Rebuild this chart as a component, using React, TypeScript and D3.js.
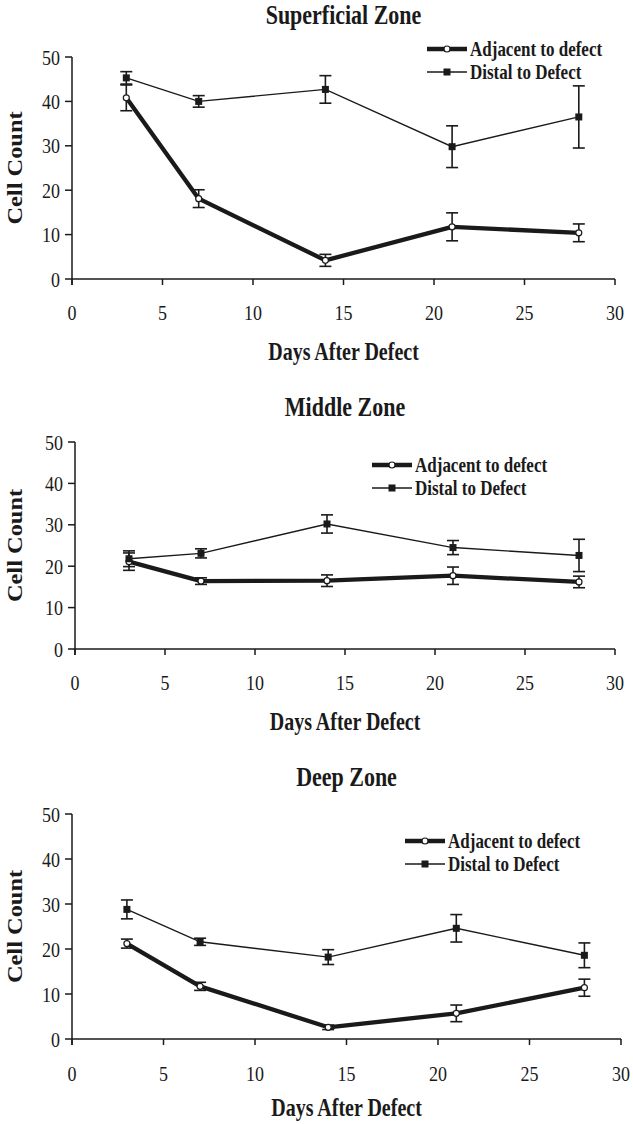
import React from "react";
import * as d3 from "d3";

const days = [3, 7, 14, 21, 28];
const xTicks = [0, 5, 10, 15, 20, 25, 30];
const yTicks = [0, 10, 20, 30, 40, 50];
const seriesNames = ["Adjacent to defect", "Distal to Defect"];
const panelTitles = ["Superficial Zone", "Middle Zone", "Deep Zone"];

const superAdj = [40.8, 18.1, 4.2, 11.75, 10.4];
const superAdjErr = [2.9, 2.0, 1.35, 3.15, 2.0];
const superDist = [45.3, 40.0, 42.7, 29.8, 36.5];
const superDistErr = [1.4, 1.3, 3.1, 4.7, 7.0];

const middleAdj = [21.1, 16.4, 16.5, 17.7, 16.2];
const middleAdjErr = [2.1, 0.8, 1.4, 2.1, 1.4];
const middleDist = [21.8, 23.1, 30.2, 24.5, 22.6];
const middleDistErr = [1.9, 1.1, 2.2, 1.7, 3.9];

const deepAdj = [21.2, 11.7, 2.6, 5.7, 11.4];
const deepAdjErr = [1.0, 0.9, 0.5, 1.85, 1.9];
const deepDist = [28.8, 21.6, 18.2, 24.6, 18.6];
const deepDistErr = [2.1, 0.8, 1.65, 3.05, 2.75];

const panelData = [
  { adj: superAdj, adjErr: superAdjErr, dist: superDist, distErr: superDistErr },
  { adj: middleAdj, adjErr: middleAdjErr, dist: middleDist, distErr: middleDistErr },
  { adj: deepAdj, adjErr: deepAdjErr, dist: deepDist, distErr: deepDistErr },
];

// layout (pixel positions)
const layouts = [
  { x0: 72, x1: 615, yTop: 57, yBot: 279, titleY: 15, labelY: 312, xTitleY: 352, legX: 427, legY: 49 },
  { x0: 75, x1: 615, yTop: 442, yBot: 649, titleY: 407, labelY: 682, xTitleY: 722, legX: 372, legY: 465 },
  { x0: 72, x1: 621, yTop: 814, yBot: 1039, titleY: 777, labelY: 1073, xTitleY: 1108, legX: 405, legY: 841 },
];

const FONT = "'Liberation Serif', 'Times New Roman', serif";
const INK = "#1a1a1a";
const SY = 1.22; // vertical stretch of glyphs in the reference

function T({
  x,
  y,
  size,
  bold,
  anchor,
  rotate,
  children,
}: {
  x: number;
  y: number;
  size: number;
  bold?: boolean;
  anchor?: string;
  rotate?: boolean;
  children: React.ReactNode;
}) {
  const tr = rotate ? `translate(${x},${y}) scale(1,${SY}) rotate(-90)` : `translate(${x},${y}) scale(1,${SY})`;
  return (
    <text
      transform={tr}
      textAnchor={anchor || "start"}
      dominantBaseline="central"
      fontFamily={FONT}
      fontWeight={bold ? "bold" : "normal"}
      fontSize={size}
      fill={INK}
    >
      {children}
    </text>
  );
}

function Panel({ idx }: { idx: number }) {
  const L = layouts[idx];
  const D = panelData[idx];
  const x = d3.scaleLinear().domain([0, 30]).range([L.x0, L.x1]);
  const y = d3.scaleLinear().domain([0, 50]).range([L.yBot, L.yTop]);
  const line = d3
    .line<number>()
    .x((_, i) => x(days[i]))
    .y((v) => y(v));
  const cap = 6;

  const errBars = (vals: number[], errs: number[], key: string) =>
    vals.map((v, i) => {
      const cx = x(days[i]);
      const lo = y(v - errs[i]);
      const hi = y(v + errs[i]);
      return (
        <g key={key + i} stroke={INK} strokeWidth={1.6}>
          <line x1={cx} x2={cx} y1={lo} y2={hi} />
          <line x1={cx - cap} x2={cx + cap} y1={lo} y2={lo} />
          <line x1={cx - cap} x2={cx + cap} y1={hi} y2={hi} />
        </g>
      );
    });

  const midX = (L.x0 + L.x1) / 2;
  return (
    <g>
      <T x={midX} y={L.titleY} size={22} bold anchor="middle">
        {panelTitles[idx]}
      </T>
      {/* axes */}
      <line x1={L.x0} x2={L.x0} y1={L.yTop} y2={L.yBot + 6} stroke={INK} strokeWidth={1.5} />
      <line x1={L.x0} x2={L.x1} y1={L.yBot} y2={L.yBot} stroke={INK} strokeWidth={1.5} />
      {yTicks.map((t) => (
        <g key={"yt" + t}>
          <line x1={L.x0 - 7} x2={L.x0} y1={y(t)} y2={y(t)} stroke={INK} strokeWidth={1.5} />
          <T x={L.x0 - 12} y={y(t)} size={18} anchor="end">
            {t}
          </T>
        </g>
      ))}
      {xTicks.map((t) => (
        <g key={"xt" + t}>
          <line x1={x(t)} x2={x(t)} y1={L.yBot} y2={L.yBot + 6} stroke={INK} strokeWidth={1.5} />
          <T x={x(t)} y={L.labelY} size={18} anchor="middle">
            {t}
          </T>
        </g>
      ))}
      <T x={15} y={(L.yTop + L.yBot) / 2} size={20} bold anchor="middle" rotate>
        Cell Count
      </T>
      <T x={midX} y={L.xTitleY} size={20} bold anchor="middle">
        Days After Defect
      </T>

      {/* adjacent */}
      {errBars(D.adj, D.adjErr, "ae")}
      <path d={line(D.adj) || ""} fill="none" stroke={INK} strokeWidth={4.3} strokeLinejoin="round" />
      {/* distal */}
      {errBars(D.dist, D.distErr, "de")}
      <path d={line(D.dist) || ""} fill="none" stroke={INK} strokeWidth={1.4} />
      {D.adj.map((v, i) => (
        <circle key={"ac" + i} cx={x(days[i])} cy={y(v)} r={3} fill="#fff" stroke={INK} strokeWidth={1.2} />
      ))}
      {D.dist.map((v, i) => (
        <rect key={"dr" + i} x={x(days[i]) - 3.5} y={y(v) - 3.5} width={7} height={7} fill={INK} />
      ))}

      {/* legend */}
      <g>
        <line x1={L.legX} x2={L.legX + 40} y1={L.legY} y2={L.legY} stroke={INK} strokeWidth={4.3} />
        <circle cx={L.legX + 20} cy={L.legY} r={3} fill="#fff" stroke={INK} strokeWidth={1.2} />
        <T x={L.legX + 43} y={L.legY} size={17} bold>
          {seriesNames[0]}
        </T>
        <line x1={L.legX} x2={L.legX + 40} y1={L.legY + 23} y2={L.legY + 23} stroke={INK} strokeWidth={1.4} />
        <rect x={L.legX + 16.5} y={L.legY + 23 - 3.5} width={7} height={7} fill={INK} />
        <T x={L.legX + 43} y={L.legY + 23} size={17} bold>
          {seriesNames[1]}
        </T>
      </g>
    </g>
  );
}

export default function App() {
  return (
    <svg width={633} height={1124} style={{ position: "absolute", left: 0, top: 0, background: "#fff" }}>
      <rect width={633} height={1124} fill="#fff" />
      {[0, 1, 2].map((i) => (
        <Panel key={i} idx={i} />
      ))}
    </svg>
  );
}
